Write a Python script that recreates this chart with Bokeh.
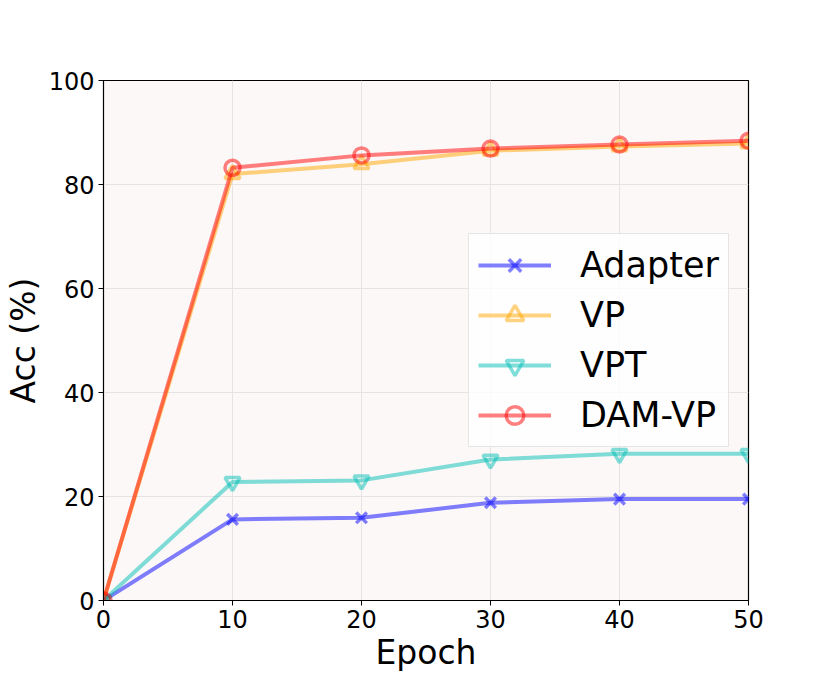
from bokeh.plotting import figure
from bokeh.models import Legend, LegendItem, Range1d, FixedTicker
from bokeh.embed import file_html
from bokeh.resources import INLINE

epochs = [0, 10, 20, 30, 40, 50]
adapter = [0, 15.6, 15.9, 18.8, 19.5, 19.5]
vp = [0, 82.0, 83.9, 86.5, 87.3, 87.9]
vpt = [0, 22.8, 23.1, 27.1, 28.2, 28.2]
dam_vp = [0, 83.2, 85.6, 86.9, 87.7, 88.4]

x_ticks = [0, 10, 20, 30, 40, 50]
y_ticks = [0, 20, 40, 60, 80, 100]

FONT = "DejaVu Sans"

p = figure(width=814, height=675, output_backend="svg", toolbar_location=None,
           x_range=Range1d(0, 50), y_range=Range1d(0, 100),
           min_border_left=103, min_border_right=66, min_border_top=80, min_border_bottom=75)

p.background_fill_color = "#fcf8f7"
p.border_fill_color = "white"
p.outline_line_color = "black"
p.outline_line_width = 1.2

for ax in (p.xaxis[0], p.yaxis[0]):
    ax.major_label_text_font = FONT
    ax.major_label_text_font_size = "24px"
    ax.major_label_text_color = "black"
    ax.axis_label_text_font = FONT
    ax.axis_label_text_font_size = "33px"
    ax.axis_label_text_font_style = "normal"
    ax.axis_label_text_color = "black"
    ax.major_tick_out = 5
    ax.major_tick_in = 0
    ax.minor_tick_out = 0
    ax.minor_tick_in = 0
    ax.major_tick_line_color = "black"
    ax.axis_line_color = "black"
    ax.major_label_standoff = 4

p.xaxis[0].axis_label_standoff = 2
p.yaxis[0].axis_label_standoff = 3

p.xaxis[0].ticker = FixedTicker(ticks=x_ticks)
p.yaxis[0].ticker = FixedTicker(ticks=y_ticks)
p.xaxis.axis_label = "Epoch"
p.yaxis.axis_label = "Acc (%)"

p.xgrid.ticker = FixedTicker(ticks=x_ticks)
p.ygrid.ticker = FixedTicker(ticks=y_ticks)
p.grid.grid_line_color = "#e6e3e3"
p.grid.grid_line_width = 1

series = [
    ("Adapter", adapter, "blue", "x"),
    ("VP", vp, "orange", "triangle"),
    ("VPT", vpt, "#00bdb5", "inverted_triangle"),
    ("DAM-VP", dam_vp, "red", "circle"),
]

items = []
for name, ys, color, marker in series:
    lr = p.line(epochs, ys, line_color=color, line_alpha=0.5, line_width=4)
    sr = p.scatter(epochs, ys, marker=marker, size=15, fill_color=None,
                   line_color=color, line_alpha=0.5, line_width=3.5)
    items.append(LegendItem(label=name, renderers=[lr, sr]))

legend = Legend(items=items, location=(365, 153))
legend.label_text_font = FONT
legend.label_text_font_size = "35px"
legend.label_text_color = "black"
legend.glyph_width = 73
legend.glyph_height = 44
legend.label_height = 44
legend.spacing = 6
legend.padding = 9
legend.margin = 0
legend.label_standoff = 29
legend.border_line_color = "#cccccc"
legend.border_line_width = 1
legend.background_fill_color = "white"
legend.background_fill_alpha = 0.8
p.add_layout(legend, "center")

open("out.html", "w").write(file_html(p, INLINE))
